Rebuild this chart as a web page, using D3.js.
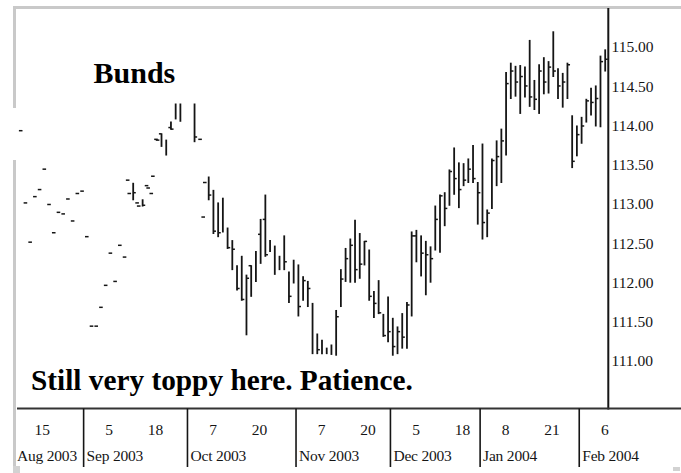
<!DOCTYPE html>
<html><head><meta charset="utf-8">
<script src="https://cdn.jsdelivr.net/npm/d3@7/dist/d3.min.js"></script>
<style>body{margin:0;background:#fff}svg{display:block}</style>
</head><body>
<svg id="chart" width="681" height="473"></svg>
<script>
// ---- data ----
const dates = [
"2003-08-12","2003-08-13","2003-08-14","2003-08-15","2003-08-18","2003-08-19","2003-08-20","2003-08-21","2003-08-22","2003-08-25","2003-08-26","2003-08-27","2003-08-28","2003-08-29",
"2003-09-01","2003-09-02","2003-09-03","2003-09-04","2003-09-05","2003-09-08","2003-09-09","2003-09-10","2003-09-11","2003-09-12","2003-09-15","2003-09-16","2003-09-17","2003-09-18","2003-09-19","2003-09-22","2003-09-23","2003-09-24","2003-09-25","2003-09-26","2003-09-29","2003-09-30",
"2003-10-01","2003-10-02","2003-10-03","2003-10-06","2003-10-07","2003-10-08","2003-10-09","2003-10-10","2003-10-13","2003-10-14","2003-10-15","2003-10-16","2003-10-17","2003-10-20","2003-10-21","2003-10-22","2003-10-23","2003-10-24","2003-10-27","2003-10-28","2003-10-29","2003-10-30","2003-10-31",
"2003-11-03","2003-11-04","2003-11-05","2003-11-06","2003-11-07","2003-11-10","2003-11-11","2003-11-12","2003-11-13","2003-11-14","2003-11-17","2003-11-18","2003-11-19","2003-11-20","2003-11-21","2003-11-24","2003-11-25","2003-11-26","2003-11-27","2003-11-28",
"2003-12-01","2003-12-02","2003-12-03","2003-12-04","2003-12-05","2003-12-08","2003-12-09","2003-12-10","2003-12-11","2003-12-12","2003-12-15","2003-12-16","2003-12-17","2003-12-18","2003-12-19","2003-12-22","2003-12-23","2003-12-29","2003-12-30",
"2004-01-02","2004-01-05","2004-01-06","2004-01-07","2004-01-08","2004-01-09","2004-01-12","2004-01-13","2004-01-14","2004-01-15","2004-01-16","2004-01-19","2004-01-20","2004-01-21","2004-01-22","2004-01-23","2004-01-26","2004-01-27","2004-01-28","2004-01-29","2004-01-30",
"2004-02-02","2004-02-03","2004-02-04","2004-02-05","2004-02-06","2004-02-09"];

const high = [
null,null,null,null,null,null,null,null,null,null,null,null,null,null,
null,null,null,null,null,null,null,null,null,null,113.26,null,113.05,null,null,null,113.89,113.81,114.04,114.27,114.27,null,
null,114.27,null,null,113.34,113.17,113.01,113.07,112.69,112.53,112.21,112.33,112.09,112.21,112.39,112.80,113.11,112.53,112.46,112.33,112.59,112.13,112.28,
112.22,112.07,112.01,111.73,111.34,111.26,111.16,111.20,111.64,112.16,112.43,112.55,112.79,112.62,112.52,112.41,111.88,112.02,111.59,111.81,
111.54,111.43,111.60,111.74,112.64,112.66,112.59,112.52,112.45,112.97,113.11,113.14,113.43,113.71,113.52,113.51,113.57,113.74,113.27,
113.76,112.92,113.57,113.80,113.95,114.67,114.79,114.75,114.76,114.74,115.08,114.57,114.77,114.86,114.81,115.19,114.72,114.66,114.79,114.12,113.99,
114.10,114.33,114.47,114.50,114.88,114.96];

const low = [
null,null,null,null,null,null,null,null,null,null,null,null,null,null,
null,null,null,null,null,null,null,null,null,null,113.05,null,112.97,null,null,null,113.73,113.62,113.95,114.08,114.05,null,
null,113.79,null,null,113.05,112.62,112.58,112.64,112.43,112.16,111.90,111.77,111.33,111.82,112.01,112.24,112.33,112.39,112.10,112.16,112.16,111.74,111.99,
111.57,111.77,111.69,111.09,111.09,111.09,111.09,111.08,111.07,111.69,112.01,112.00,112.00,112.05,112.22,111.77,111.55,111.60,111.31,111.24,
111.07,111.09,111.16,111.16,111.57,112.26,112.08,111.84,112.00,112.41,112.38,112.72,112.98,113.12,112.95,113.23,113.27,113.27,112.74,
112.55,112.58,112.94,113.23,113.27,113.62,114.34,114.37,114.15,114.36,114.24,114.20,114.15,114.40,114.41,114.62,114.34,114.23,114.34,113.46,113.61,
113.77,114.04,114.13,113.99,113.98,114.69];

const open = [
null,null,null,null,null,null,null,null,null,null,null,null,null,null,
null,null,null,null,null,null,null,null,null,113.30,null,113.01,null,113.23,113.13,113.82,113.89,null,113.97,null,null,null,
null,null,null,112.83,null,null,null,null,null,null,null,null,null,112.21,null,112.61,112.80,null,null,null,null,null,null,
null,null,null,null,null,null,null,null,null,null,null,null,null,null,null,null,null,null,null,null,
null,null,null,null,null,112.59,null,null,null,null,null,null,null,null,null,null,null,null,null,
null,null,null,null,null,null,null,null,null,null,null,null,null,null,null,null,null,null,null,null,null,
null,null,null,null,null,null];

const close = [
113.93,113.01,112.51,113.09,113.18,113.44,112.99,112.63,112.89,112.87,113.06,112.78,113.13,113.16,
112.58,111.44,111.44,111.68,111.96,112.37,112.01,112.47,112.32,113.13,113.14,112.97,112.98,113.20,113.35,113.81,null,null,113.95,null,null,null,
null,113.85,113.82,113.27,113.11,112.65,112.63,null,112.44,112.42,111.92,111.78,112.05,null,null,null,112.35,null,null,null,112.26,111.82,null,
111.69,112.02,111.92,null,111.14,null,null,null,111.56,112.04,112.30,112.47,112.16,112.23,112.52,111.82,111.73,111.61,111.32,111.37,
111.18,111.37,111.30,111.71,112.59,null,112.37,112.35,112.30,112.80,113.10,112.94,113.41,113.32,113.18,113.30,113.44,113.32,113.14,
112.76,112.88,113.55,113.60,113.80,114.53,114.69,114.55,114.62,114.50,114.36,114.33,114.69,114.55,114.74,114.69,114.50,114.55,114.77,113.54,113.88,
113.99,114.31,114.29,114.34,114.81,114.84];

const yTicks = [111.00,111.50,112.00,112.50,113.00,113.50,114.00,114.50,115.00];
const dayTicks = [
  {date:"2003-08-15",label:"15"},{date:"2003-09-05",label:"5"},{date:"2003-09-18",label:"18"},
  {date:"2003-10-07",label:"7"},{date:"2003-10-20",label:"20"},{date:"2003-11-07",label:"7"},
  {date:"2003-11-20",label:"20"},{date:"2003-12-05",label:"5"},{date:"2003-12-18",label:"18"},
  {date:"2004-01-08",label:"8"},{date:"2004-01-21",label:"21"},{date:"2004-02-06",label:"6"}];
const monthStarts = ["2003-08-12","2003-09-01","2003-10-01","2003-11-03","2003-12-01","2004-01-02","2004-02-02"];
const monthLabels = ["Aug 2003","Sep 2003","Oct 2003","Nov 2003","Dec 2003","Jan 2004","Feb 2004"];
const title = "Bunds";
const note = "Still very toppy here. Patience.";

// ---- drawing ----
const svg = d3.select("#chart");
const W = 681, H = 473;
const plotLeft = 17, plotRight = 608.3, axisY = 408.5;
const font = "'Liberation Serif','Times New Roman',serif";
const ink = "#151515";

const x = d3.scalePoint().domain(dates).range([19.9, 605.2]);
const step = x.step();
const y = d3.scaleLinear().domain([111, 115]).range([360.7, 46.7]);

svg.append("rect").attr("width", W).attr("height", H).attr("fill", "#fff");

// frame remnants (light grey)
const grey = "#c9c9c9";
svg.append("rect").attr("x", 13).attr("y", 6).attr("width", W - 13).attr("height", 3).attr("fill", grey);
svg.append("rect").attr("x", 13).attr("y", 6).attr("width", 3).attr("height", 102).attr("fill", grey);
svg.append("rect").attr("x", 13).attr("y", 160).attr("width", 3).attr("height", 313).attr("fill", grey);
svg.append("rect").attr("x", 13).attr("y", 466).attr("width", 7).attr("height", 7).attr("fill", "#d2d2d2");
svg.append("rect").attr("x", 673).attr("y", 467).attr("width", 7).attr("height", 4).attr("fill", "#d2d2d2");

// OHLC bars
const bars = dates.map((d, i) => ({d, o: open[i], h: high[i], l: low[i], c: close[i]}));
const g = svg.append("g").attr("stroke", ink).attr("fill", "none");
g.selectAll("line.hl").data(bars.filter(b => b.h != null && b.l != null)).join("line")
  .attr("class", "hl")
  .attr("x1", b => x(b.d)).attr("x2", b => x(b.d))
  .attr("y1", b => y(b.h) - 0.5).attr("y2", b => y(b.l) + 0.5)
  .attr("stroke-width", 1.8);
g.selectAll("line.cl").data(bars.filter(b => b.c != null)).join("line")
  .attr("class", "cl")
  .attr("x1", b => x(b.d) - (b.h == null ? 1 : 0)).attr("x2", b => x(b.d) + 2.6)
  .attr("y1", b => y(b.c)).attr("y2", b => y(b.c))
  .attr("stroke-width", 1.5);
g.selectAll("line.op").data(bars.filter(b => b.o != null)).join("line")
  .attr("class", "op")
  .attr("x1", b => x(b.d) - 2.6).attr("x2", b => x(b.d) + (b.h == null ? 1 : 0))
  .attr("y1", b => y(b.o)).attr("y2", b => y(b.o))
  .attr("stroke-width", 1.5);

// right price axis
svg.append("line").attr("x1", plotRight).attr("x2", plotRight).attr("y1", 8).attr("y2", axisY + 1)
  .attr("stroke", ink).attr("stroke-width", 2);
svg.append("g").selectAll("text").data(yTicks).join("text")
  .attr("x", 611.5).attr("y", v => y(v)).attr("dy", "0.36em")
  .attr("font-family", font).attr("font-size", 15.5).attr("fill", ink)
  .text(d3.format(".2f"));

// time axis
svg.append("line").attr("x1", plotLeft).attr("x2", W).attr("y1", axisY).attr("y2", axisY)
  .attr("stroke", "#333").attr("stroke-width", 2.2);
const sepX = d => x(d) - step / 2;
svg.append("g").selectAll("line").data(monthStarts.slice(1)).join("line")
  .attr("x1", sepX).attr("x2", sepX).attr("y1", axisY).attr("y2", 467)
  .attr("stroke", ink).attr("stroke-width", 1.6);
svg.append("g").selectAll("text").data(dayTicks).join("text")
  .attr("x", t => x(t.date) + 0.5).attr("y", 435)
  .attr("font-family", font).attr("font-size", 15.5).attr("fill", ink)
  .text(t => t.label);
svg.append("g").selectAll("text").data(monthStarts).join("text")
  .attr("x", (d, i) => i === 0 ? plotLeft : sepX(d) + 3).attr("y", 461)
  .attr("font-family", font).attr("font-size", 15.5).attr("fill", ink)
  .attr("letter-spacing", -0.2)
  .text((d, i) => monthLabels[i]);

// annotations
svg.append("text").attr("x", 93.5).attr("y", 82.7)
  .attr("font-family", font).attr("font-weight", "bold").attr("font-size", 30).attr("fill", "#000")
  .text(title);
svg.append("text").attr("x", 31).attr("y", 390)
  .attr("font-family", font).attr("font-weight", "bold").attr("font-size", 29.3).attr("fill", "#000")
  .text(note);
</script>
</body></html>
